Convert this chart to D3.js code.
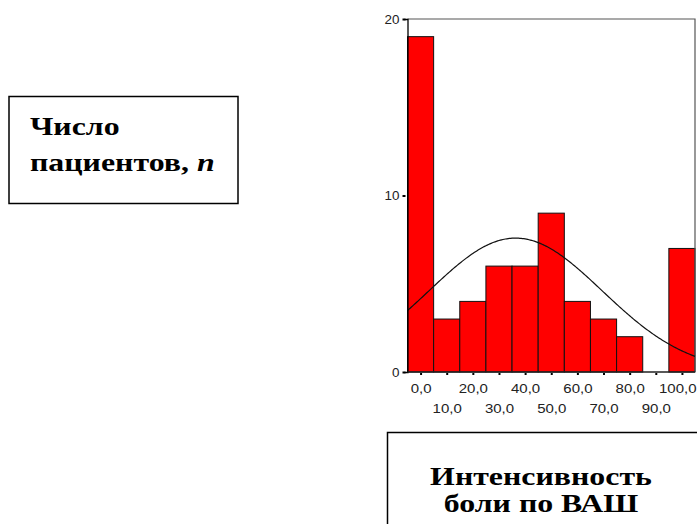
<!DOCTYPE html>
<html>
<head>
<meta charset="utf-8">
<script src="https://cdn.jsdelivr.net/npm/d3@7"></script>
<style>
  body { margin: 0; background: #fff; }
  svg { display: block; }
  .ttl { font-family: "Liberation Serif", "Times New Roman", Times, "DejaVu Serif", serif; font-weight: bold; }
  .ax { font-family: "Liberation Sans", Arial, sans-serif; }
</style>
</head>
<body>
<script>
// Histogram of pain intensity (VAS) with a normal curve
const bins = [0, 10, 20, 30, 40, 50, 60, 70, 80, 90, 100];
const counts = [19, 3, 4, 6, 6, 9, 4, 3, 2, 0, 7];
const yTicks = [0, 10, 20];
const xLabels = ["0,0", "10,0", "20,0", "30,0", "40,0", "50,0", "60,0", "70,0", "80,0", "90,0", "100,0"];
const yTitle = ["Число", "пациентов, "];
const xTitle = ["Интенсивность", "боли по ВАШ"];

const W = 697, H = 524;
const stretch = 1.3; // the original picture is widened horizontally
const svg = d3.select("body").append("svg").attr("width", W).attr("height", H);

const x = d3.scaleLinear().domain([-5, 105]).range([407.5, 695]);
const y = d3.scaleLinear().domain([0, 20]).range([372, 19]);
const binW = 10;

// bars
svg.append("g").selectAll("rect")
  .data(bins.map((b, i) => ({ b, c: counts[i] })).filter(d => d.c > 0))
  .enter().append("rect")
  .attr("x", d => x(d.b - binW / 2))
  .attr("y", d => y(d.c))
  .attr("width", d => x(d.b + binW / 2) - x(d.b - binW / 2))
  .attr("height", d => y(0) - y(d.c))
  .attr("fill", "#ff0000")
  .attr("stroke", "#111")
  .attr("stroke-width", 1);

// frame (top and right)
svg.append("path")
  .attr("d", `M${x(-5)},${y(20)}H${x(105)}V${y(0)}`)
  .attr("fill", "none").attr("stroke", "#555").attr("stroke-width", 1.2);

// normal curve fitted to the data
const n = d3.sum(counts);
const values = bins.flatMap((b, i) => d3.range(counts[i]).map(() => b));
const mu = d3.mean(values), sd = d3.deviation(values);
const curveX = d3.range(-5, 105.01, 0.5);
const dens = v => n * binW / (sd * Math.sqrt(2 * Math.PI)) * Math.exp(-0.5 * ((v - mu) / sd) ** 2);
svg.append("path")
  .datum(curveX)
  .attr("d", d3.line().x(d => x(d)).y(d => y(dens(d))))
  .attr("fill", "none").attr("stroke", "#111").attr("stroke-width", 1.2);

// y axis
const yAxis = svg.append("g").attr("transform", `translate(${x(-5)},0)`)
  .call(d3.axisLeft(y).tickValues(yTicks).tickSize(3).tickFormat(() => ""));
yAxis.attr("font-family", null).attr("font-size", null).attr("class", "ax");
yAxis.select(".domain").attr("stroke", "#000").attr("stroke-width", 1.3);
yAxis.selectAll(".tick line").attr("stroke", "#000").attr("stroke-width", 2).attr("x2", -2).attr("x1", -5);
yAxis.selectAll(".tick").append("text")
  .attr("transform", "translate(-8,4) scale(1.12,1)")
  .attr("text-anchor", "end")
  .attr("font-size", 12).attr("fill", "#222")
  .text(d => d);

// x axis
const xAxis = svg.append("g").attr("transform", `translate(0,${y(0)})`)
  .call(d3.axisBottom(x).tickValues(bins).tickSize(3).tickFormat(() => ""));
xAxis.attr("font-family", null).attr("font-size", null).attr("class", "ax");
xAxis.select(".domain").attr("d", `M${x(-5)},0H${x(105)}`).attr("stroke", "#222").attr("stroke-width", 1.3);
xAxis.selectAll(".tick line").attr("stroke", "#000").attr("stroke-width", 2).attr("y1", 1);
const last = bins.length - 1;
xAxis.selectAll(".tick").append("text")
  .attr("transform", (d, i) => `translate(${i === last ? W - 1 - x(d) : 0},${i % 2 === 0 ? 21 : 41}) scale(1.25,1)`)
  .attr("text-anchor", (d, i) => i === last ? "end" : "middle")
  .attr("font-size", 12).attr("fill", "#222")
  .text((d, i) => xLabels[i]);

// title boxes
svg.append("rect").attr("x", 9).attr("y", 96.5).attr("width", 229).attr("height", 107)
  .attr("fill", "none").attr("stroke", "#000").attr("stroke-width", 1.5);
svg.append("text").attr("class", "ttl").attr("font-size", 24.5).attr("fill", "#000")
  .attr("transform", `translate(30,135) scale(${stretch},1)`).text(yTitle[0]);
const t1b = svg.append("text").attr("class", "ttl").attr("font-size", 24.5).attr("fill", "#000")
  .attr("transform", `translate(30,171) scale(${stretch},1)`).text(yTitle[1]);
t1b.append("tspan").attr("font-style", "italic").text("n");

svg.append("rect").attr("x", 387.5).attr("y", 432.5).attr("width", 330).attr("height", 120)
  .attr("fill", "none").attr("stroke", "#000").attr("stroke-width", 1.5);
xTitle.forEach((t, i) => {
  svg.append("text").attr("class", "ttl").attr("font-size", 24.5)
    .attr("fill", "#000").attr("text-anchor", "middle")
    .attr("transform", `translate(541,${i === 0 ? 485 : 512}) scale(${stretch},1)`)
    .text(t);
});
</script>
</body>
</html>
